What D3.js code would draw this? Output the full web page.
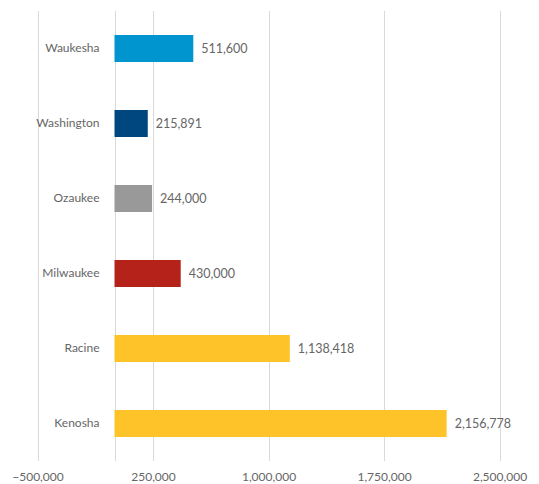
<!DOCTYPE html>
<html>
<head>
<meta charset="utf-8">
<script src="https://cdn.jsdelivr.net/npm/d3@7"></script>
<style>
  html, body { margin: 0; padding: 0; background: #fff; }
  svg text { font-family: Lato, "Open Sans", sans-serif; fill: #666666; }
</style>
</head>
<body>
<svg id="chart" width="539" height="484"></svg>
<script>
// Counties, top to bottom
const counties = ["Waukesha", "Washington", "Ozaukee", "Milwaukee", "Racine", "Kenosha"];
const values = [511600, 215891, 244000, 430000, 1138418, 2156778];
const barColors = ["#0095cf", "#00467f", "#999999", "#b5221a", "#fec328", "#fec328"];
const tickValues = [-500000, 250000, 1000000, 1750000, 2500000];

const svg = d3.select("#chart");
const plot = { left: 37.5, right: 499.5, top: 11, bottom: 461 };
const textColor = "#666666";

const x = d3.scaleLinear()
  .domain([-500000, 2500000])
  .range([plot.left, plot.right]);

const y = d3.scaleBand()
  .domain(counties)
  .range([plot.top, plot.bottom])
  .paddingInner(0.64)
  .paddingOuter(0.32);

const fmt = d3.format(",");

// vertical gridlines
svg.append("g")
  .selectAll("line")
  .data(tickValues)
  .join("line")
  .attr("x1", d => Math.round(x(d)) + 0.5)
  .attr("x2", d => Math.round(x(d)) + 0.5)
  .attr("y1", plot.top)
  .attr("y2", plot.bottom)
  .attr("stroke", "#d9d9d9")
  .attr("stroke-width", 1);

// zero line
svg.append("line")
  .attr("x1", Math.round(x(0)) + 0.5)
  .attr("x2", Math.round(x(0)) + 0.5)
  .attr("y1", plot.top)
  .attr("y2", plot.bottom)
  .attr("stroke", "#d9d9d9");

// x axis labels
const xAxis = d3.axisBottom(x)
  .tickValues(tickValues)
  .tickFormat(fmt)
  .tickSize(0)
  .tickPadding(11);
const gx = svg.append("g")
  .attr("transform", `translate(0,${plot.bottom})`)
  .call(xAxis);
gx.select(".domain").remove();
gx.selectAll("text")
  .attr("font-size", 12)
  .style("font-family", "Lato, 'Open Sans', sans-serif")
  .attr("fill", textColor);

// category labels
const yAxis = d3.axisLeft(y).tickSize(0).tickPadding(15);
const gy = svg.append("g")
  .attr("transform", `translate(${x(0)},0)`)
  .call(yAxis);
gy.select(".domain").remove();
gy.selectAll("text")
  .attr("font-size", 12)
  .style("font-family", "Lato, 'Open Sans', sans-serif")
  .attr("fill", textColor);

// bars
const rows = counties.map((c, i) => ({ county: c, value: values[i], color: barColors[i] }));
svg.append("g")
  .selectAll("rect")
  .data(rows)
  .join("rect")
  .attr("x", x(0))
  .attr("y", d => y(d.county))
  .attr("width", d => x(d.value) - x(0))
  .attr("height", y.bandwidth())
  .attr("fill", d => d.color);

// value labels
svg.append("g")
  .selectAll("text")
  .data(rows)
  .join("text")
  .attr("x", d => x(d.value) + 8)
  .attr("y", d => y(d.county) + y.bandwidth() / 2)
  .attr("dy", "0.35em")
  .attr("font-size", 12.5)
  .text(d => fmt(d.value));
</script>
</body>
</html>
